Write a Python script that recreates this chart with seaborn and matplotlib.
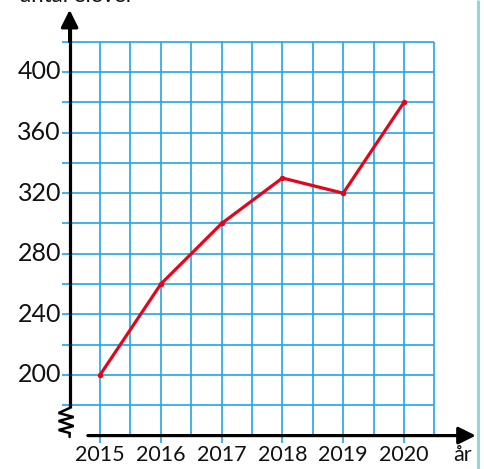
import numpy as np
import pandas as pd
import matplotlib
matplotlib.use('Agg')
import matplotlib.pyplot as plt
import seaborn as sns

# data
years = [2015, 2016, 2017, 2018, 2019, 2020]
elever = [200, 260, 300, 330, 320, 380]
y_ticks = [200, 240, 280, 320, 360, 400]
y_label = 'antal elever'
x_label = 'år'

df = pd.DataFrame({'år': years, 'antal': elever})

sns.set_theme(style='white')
plt.rcParams['font.family'] = ['Lato', 'DejaVu Sans']

blue = '#21a6e3'
red = '#e2061c'

fig = plt.figure(figsize=(4.85, 4.69), dpi=100)
ax = fig.add_axes([0, 0, 1, 1])
ax.set_xlim(2013.355, 2021.332)
ax.set_ylim(137.95, 447.5)
ax.axis('off')

# pixel sizes in data units
px_x = 1 / 60.8
px_y = 200 / 303

# grid
x_axis_y = 160
y_axis_x = 2014.5
grid_left = 2014.375
grid_right = 2020.5
for yv in range(180, 421, 20):
    ax.hlines(yv, grid_left, grid_right, color=blue, lw=1.2, zorder=1)
for xv in np.arange(2015, 2020.51, 0.5):
    bottom = 155.1 if xv in years else x_axis_y
    ax.vlines(xv, bottom, 420, color=blue, lw=1.2, zorder=1)

# axes with arrows
ax.plot([y_axis_x, y_axis_x], [178.2, 430], color='black', lw=2.3, zorder=3,
        solid_capstyle='butt')
ax.annotate('', xy=(y_axis_x, 441), xytext=(y_axis_x, 420),
            arrowprops=dict(arrowstyle='-|>', lw=2.3, color='black',
                            mutation_scale=26, shrinkA=0, shrinkB=0), zorder=3)
ax.annotate('', xy=(2021.18, x_axis_y), xytext=(2014.80, x_axis_y),
            arrowprops=dict(arrowstyle='-|>', lw=2.3, color='black',
                            mutation_scale=26, shrinkA=0, shrinkB=0), zorder=3)

# zigzag axis break
zx = np.array([0, -11, 4, -11, 4, -11, 0, 0])
zy = np.array([0, 5, 9, 13, 18, 22, 25, 29])
ax.plot(y_axis_x + zx * px_x, 178.2 - zy * px_y, color='black', lw=1.8,
        zorder=3, solid_joinstyle='miter')

# data line
sns.lineplot(data=df, x='år', y='antal', ax=ax, color=red, lw=2.3,
             marker='o', markersize=4, markeredgewidth=0, zorder=4)

# tick labels
for yv in y_ticks:
    ax.text(grid_left - 1 * px_x, yv, str(yv), ha='right', va='center',
            fontsize=18, color='#111111')
for xv in years:
    ax.text(xv, 147.0, str(xv), ha='center', va='center', fontsize=15.5,
            color='#111111')
ax.text(2020.97, 147.0, x_label, ha='center', va='center', fontsize=15.5,
        color='#111111')
ax.text(2013.68, 446.2, y_label, ha='left', va='baseline', fontsize=16,
        color='#111111')

# right border line
ax.vlines(2021.21, 137.95, 447.5, color='#8fd0d4', lw=2, zorder=1)

ax.set_xlabel('')
ax.set_ylabel('')
fig.savefig('out.png', dpi=100)
